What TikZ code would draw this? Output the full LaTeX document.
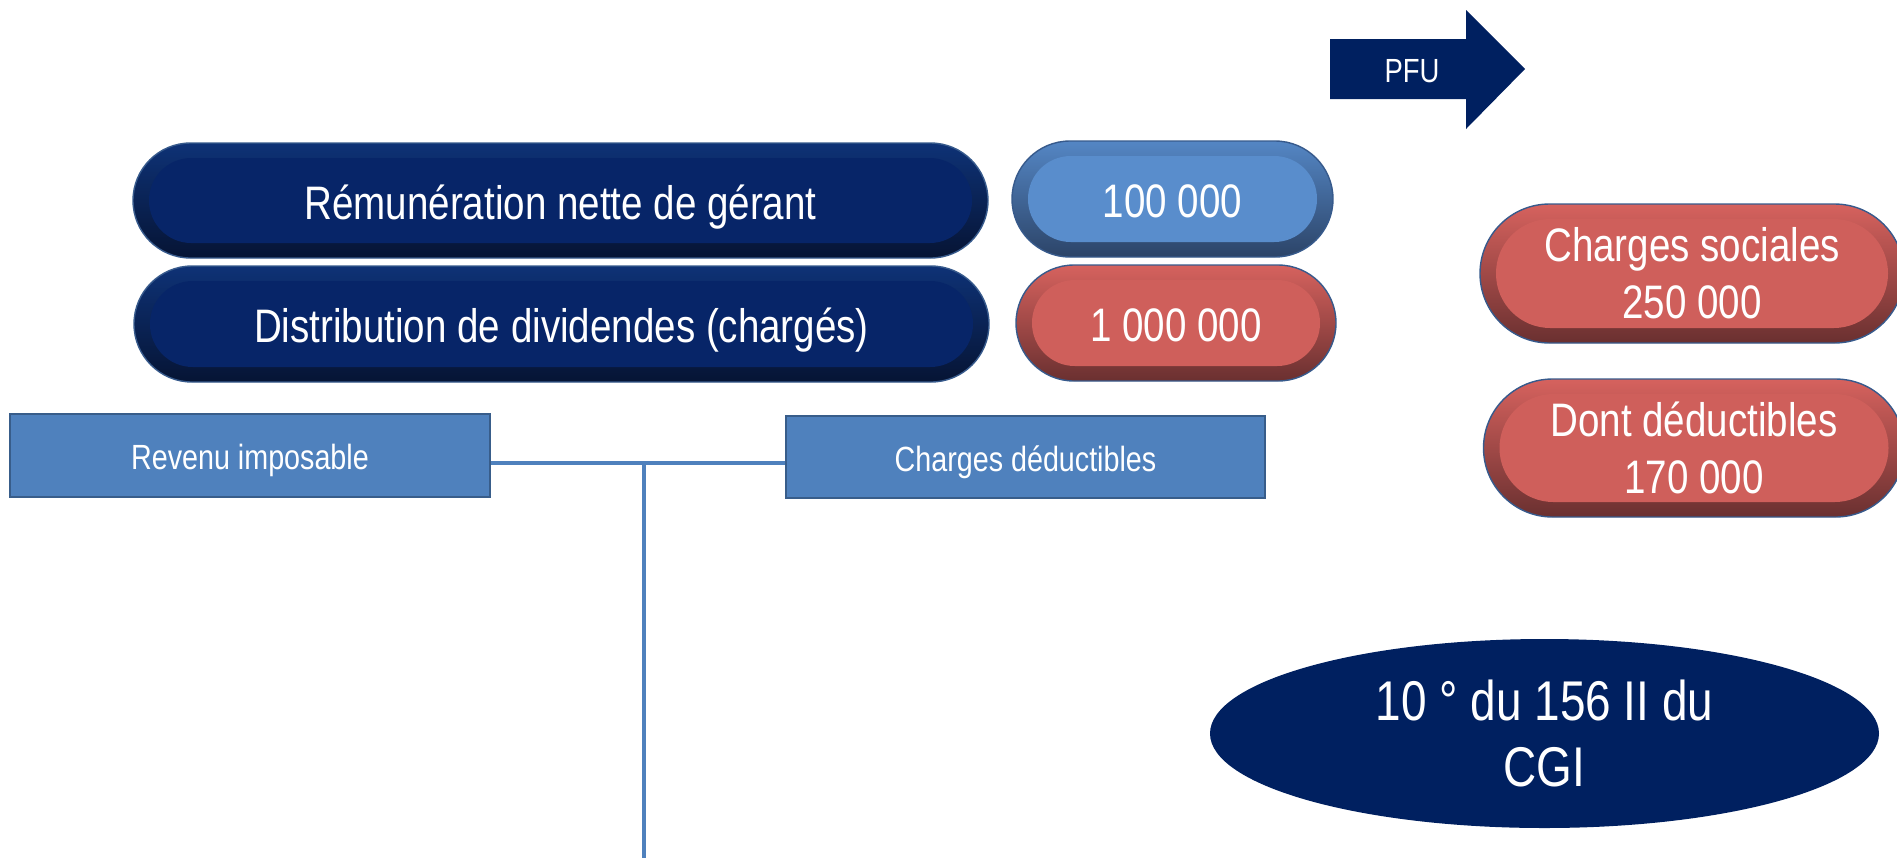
\documentclass[tikz,border=0pt]{standalone}
\usepackage{fontspec}
\setmainfont{Liberation Sans}[FakeStretch=0.82]
\usetikzlibrary{shapes.misc,shapes.geometric,calc}

\definecolor{navyin}{RGB}{7,37,104}
\definecolor{navytop}{RGB}{14,50,118}
\definecolor{navybot}{RGB}{6,20,52}
\definecolor{bluein}{RGB}{89,141,204}
\definecolor{bluetop}{RGB}{84,134,196}
\definecolor{bluebot}{RGB}{44,68,104}
\definecolor{redin}{RGB}{207,95,91}
\definecolor{redtop}{RGB}{214,98,94}
\definecolor{redbot}{RGB}{106,48,48}
\definecolor{pilledge}{RGB}{55,90,140}
\definecolor{boxblue}{RGB}{79,129,189}
\definecolor{boxedge}{RGB}{56,93,138}
\definecolor{navy}{RGB}{0,32,96}

\begin{document}
\begin{tikzpicture}
          [x=0.5pt,y=-0.5pt,
          pill/.style n args={3}{shape=rounded rectangle,draw=pilledge,line width=0.7pt,
            top color=#2,bottom color=#3,text=white,inner sep=0pt,align=center,
            font=\fontsize{23.5}{28.5}\selectfont,
            path picture={\fill[#1] let \p1=(path picture bounding box.south west),
              \p2=(path picture bounding box.north east),\n1={(\y2-\y1)/2-7.6pt} in
              [rounded corners=\n1] (\x1+8pt,\y1+7.5pt) rectangle (\x2-8pt,\y2-7.5pt);}},
          oneline/.style={text height=18.5pt,text depth=0pt},
          box/.style={shape=rectangle,draw=boxedge,line width=0.8pt,fill=boxblue,text=white,
            inner sep=0pt,font=\fontsize{17.5}{21}\selectfont,text height=14pt,text depth=0pt},
          link/.style={draw=boxblue,line width=2.2pt}]

            \useasboundingbox (0,0) rectangle (1897,858);

            % PFU arrow
            \fill [navy] (1330,39) -- (1466,39) -- (1466,10) -- (1525,69)
              -- (1466,129) -- (1466,99) -- (1330,99) -- cycle;
            \node (pfu) [text height=13pt,text depth=0pt,text=white,font=\fontsize{16.75}{20}\selectfont] at (1412,69) {PFU};

            \node (rem) [pill={navyin}{navytop}{navybot},oneline,minimum width=427.5pt,minimum height=57.5pt] at (560.5,200.5) {Rémunération nette de gérant};
            \node (dist) [pill={navyin}{navytop}{navybot},oneline,minimum width=427.5pt,minimum height=58pt] at (561.5,324) {Distribution de dividendes (chargés)};
            \node (net) [pill={bluein}{bluetop}{bluebot},oneline,minimum width=160.5pt,minimum height=58pt] at (1172.5,199) {100 000};
            \node (div) [pill={redin}{redtop}{redbot},oneline,minimum width=160pt,minimum height=58pt] at (1176,323) {1 000 000};
            \node (soc) [pill={redin}{redtop}{redbot},minimum width=212pt,minimum height=69.5pt] at (1692,273.5) {Charges sociales\\250 000};
            \node (ded) [pill={redin}{redtop}{redbot},minimum width=210.5pt,minimum height=69pt] at (1694,448) {Dont déductibles\\170 000};

            \node (rev) [box,minimum width=240pt,minimum height=41.5pt] at (250,455.5) {Revenu imposable};
            \node (chd) [box,minimum width=239.5pt,minimum height=41pt] at (1025.5,457) {Charges déductibles};

            \node (cgi) [shape=ellipse,fill=navy,text=white,inner sep=0pt,align=center,
              minimum width=334.5pt,minimum height=94.5pt,
              font=\fontsize{28}{33}\selectfont] at (1544.5,733.5) {10 ° du 156 II du\\CGI};

            \coordinate (join) at (644,463);
            \coordinate (foot) at (644,858);

            \draw [link] (rev.east |- join) -- (chd.west |- join);
            \draw [link] (join) -- (foot);

        \end{tikzpicture}
\end{document}
